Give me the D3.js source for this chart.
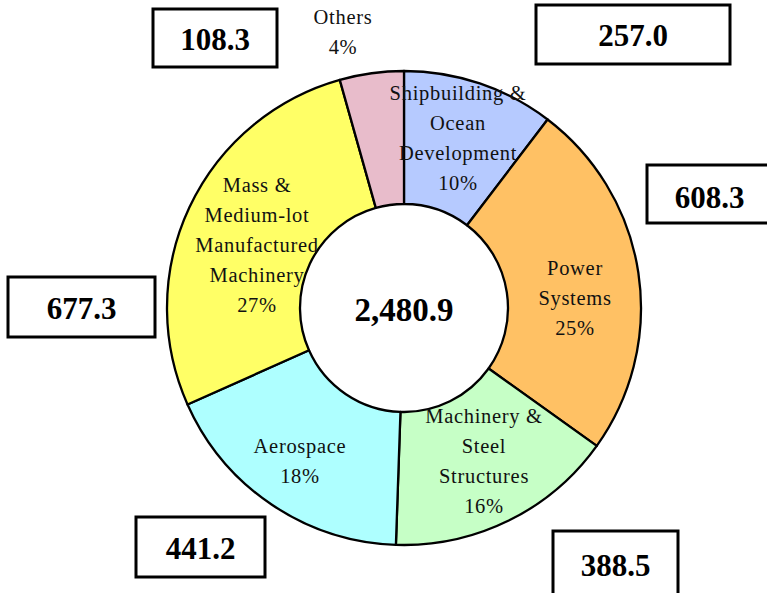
<!DOCTYPE html>
<html><head><meta charset="utf-8">
<script src="https://cdn.jsdelivr.net/npm/d3@7"></script>
<style>body{margin:0;background:#fff}svg{display:block}</style>
</head><body>
<svg id="chart" width="767" height="593"></svg>
<script>
// ---- data ----
const categories = ["Shipbuilding & Ocean Development","Power Systems","Machinery & Steel Structures","Aerospace","Mass & Medium-lot Manufactured Machinery","Others"];
const values = [257.0, 608.3, 388.5, 441.2, 677.3, 108.3];
const valueLabels = ["257.0","608.3","388.5","441.2","677.3","108.3"];
const percentLabels = ["10%","25%","16%","18%","27%","4%"];
const nameLines = [["Shipbuilding &","Ocean","Development"],["Power","Systems"],["Machinery &","Steel","Structures"],["Aerospace"],["Mass &","Medium-lot","Manufactured","Machinery"],["Others"]];
const totalLabel = "2,480.9";

// ---- layout / style ----
const colors = ["#b6caff","#ffc164","#c6ffc6","#aeffff","#ffff66","#e8bccb"];
const cx = 404, cy = 308, rOuter = 237, rInner = 104;
// label block centers (first line) relative to chart center
const labelPos = [[54,-215],[171,-40],[80,108],[-104,138],[-147,-123],[-61,-291]];
// value box rectangles [x,y,w,h]
const boxes = [[536,5,194,59],[647,165,125,58],[553,531,125,70],[136,517,129,60],[8,277,147,60],[153,9,124,58]];

const svg = d3.select("#chart");
const g = svg.append("g").attr("transform",`translate(${cx},${cy})`);
const pie = d3.pie().sort(null).value(d=>d);
const arcs = pie(values);
const arc = d3.arc().innerRadius(rInner).outerRadius(rOuter);

g.selectAll("path.slice").data(arcs).join("path")
  .attr("class","slice")
  .attr("d",arc)
  .attr("fill",(d,i)=>colors[i])
  .attr("stroke","#000").attr("stroke-width",2.3).attr("stroke-linejoin","round");

// slice labels
const lh = 30;
arcs.forEach((d,i)=>{
  const lines = nameLines[i].concat([percentLabels[i]]);
  const t = g.append("text")
    .attr("font-family","'Liberation Serif','Times New Roman',serif")
    .attr("font-size",20.5).attr("letter-spacing",0.7)
    .attr("text-anchor","middle").attr("fill","#111");
  lines.forEach((s,k)=>{
    t.append("tspan").attr("x",labelPos[i][0]).attr("y",labelPos[i][1]+k*lh)
      .attr("dominant-baseline","central").text(s);
  });
});

// center total
g.append("text").attr("x",0).attr("y",2)
  .attr("text-anchor","middle").attr("dominant-baseline","central")
  .attr("font-family","'Liberation Serif','Times New Roman',serif")
  .attr("font-weight","bold").attr("font-size",33).text(totalLabel);

// value boxes
const bx = svg.selectAll("g.box").data(valueLabels).join("g").attr("class","box");
bx.append("rect")
  .attr("x",(d,i)=>boxes[i][0]).attr("y",(d,i)=>boxes[i][1])
  .attr("width",(d,i)=>boxes[i][2]).attr("height",(d,i)=>boxes[i][3])
  .attr("fill","#fff").attr("stroke","#000").attr("stroke-width",3);
bx.append("text")
  .attr("x",(d,i)=>boxes[i][0]+boxes[i][2]/2)
  .attr("y",(d,i)=>boxes[i][1]+ (i===1? 32 : i===2? 34 : boxes[i][3]/2+1))
  .attr("text-anchor","middle").attr("dominant-baseline","central")
  .attr("font-family","'Liberation Serif','Times New Roman',serif")
  .attr("font-weight","bold").attr("font-size",31).text(d=>d);
</script>
</body></html>
